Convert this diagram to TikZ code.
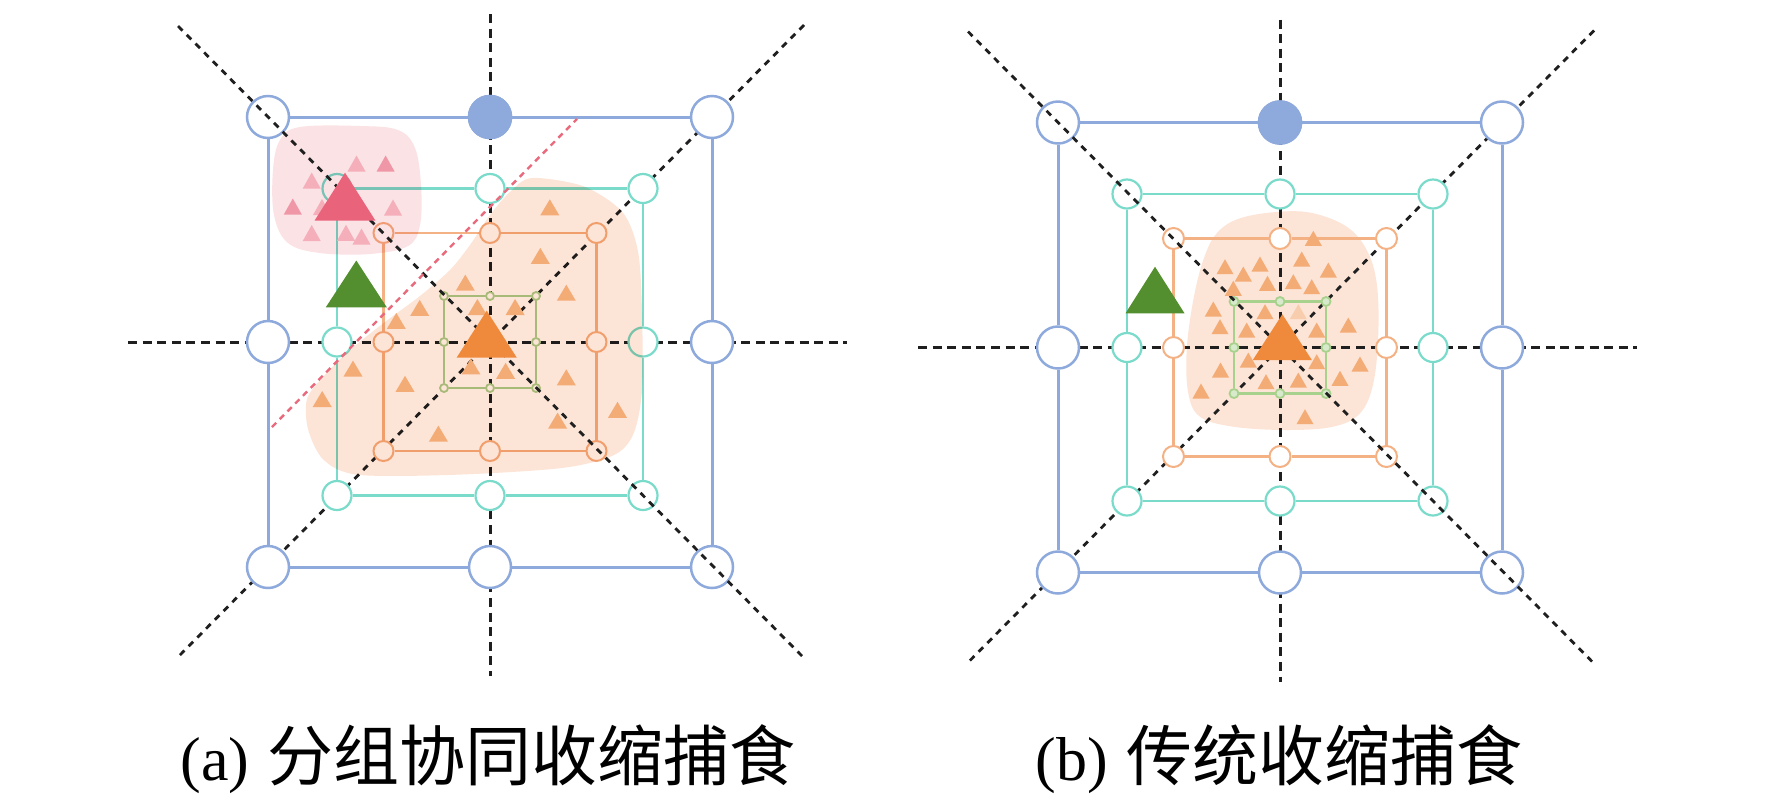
\documentclass[tikz,border=0pt]{standalone}
\usepackage{fontspec}
\setmainfont{Liberation Serif}
\newfontfamily\cjk{Noto Sans CJK SC}
\definecolor{cblue}{HTML}{8EA9DB}
\definecolor{ccyan}{HTML}{7ADBCB}
\definecolor{corange}{HTML}{F4B183}
\definecolor{cgreen}{HTML}{A9D18E}
\definecolor{cblob}{HTML}{FCE4D6}
\definecolor{cpink}{HTML}{FBE2E5}
\definecolor{cred}{HTML}{E9647A}
\definecolor{cpinktri}{HTML}{F5AFBB}
\definecolor{cpinktrid}{HTML}{EF97A7}
\definecolor{corangetri}{HTML}{F4AC76}
\definecolor{cbigorange}{HTML}{EF8A3C}
\definecolor{cdkgreen}{HTML}{548F2F}
\definecolor{credline}{HTML}{E86A7C}
\newcommand\ring[6]{%
 \node[#5] (#1#21) at (-#3,-#4) {};
 \node[#5] (#1#22) at (0,-#4) {};
 \node[#5] (#1#23) at (#3,-#4) {};
 \node[#5] (#1#24) at (#3,0) {};
 \node[#5] (#1#25) at (#3,#4) {};
 \node[#5] (#1#26) at (0,#4) {};
 \node[#5] (#1#27) at (-#3,#4) {};
 \node[#5] (#1#28) at (-#3,0) {};
 \draw[#6] (#1#21) -- (#1#22) -- (#1#23) -- (#1#24) -- (#1#25) -- (#1#26) -- (#1#27) -- (#1#28) -- (#1#21);
}
\newcommand\gridpanel[5]{%
\begin{scope}[shift={(#2,#3)}]
 \coordinate (#1hl) at (-362,0); \coordinate (#1hr) at (357,0);
 \coordinate (#1vt) at (0,-328); \coordinate (#1vb) at (0,334);
 \coordinate (#1tr) at (314,-317); \coordinate (#1bl) at (-312,315);
 \coordinate (#1tl) at (-312,-316); \coordinate (#1br) at (312,314);
 \draw[guide] (#1hl) -- (#1hr);
 \draw[guide] (#1vt) -- (#1vb);
 \draw[diag] (#1tr) -- (#1bl);
 \ring{#1}{G}{46}{46}{#5}{greenl}
 \ring{#1}{O}{106.5}{109}{#4}{orangel}
 \ring{#1}{C}{153}{153.5}{cyanc}{cyanl}
 \ring{#1}{B}{222}{225}{bluec}{bluel}
 \node[bluec,fill=cblue] (#1Bf) at (#1B2.center) {};
\end{scope}}
\newcommand\stri[5]{\fill[#5] (#1,#2) ++({-0.5*#3},{0.5*#4}) -- ++(#3,0) -- ++({-0.5*#3},{-#4}) -- cycle;}
\newcommand\btri[5]{\fill[#5] (#1,#2) -- (#1+#4,#3) -- (#1-#4,#3) -- cycle;}
\begin{document}
\begin{tikzpicture}[x=0.5pt,y=-0.5pt,
  guide/.style={draw=black!88,line width=1.5pt,dash pattern=on 4.5pt off 2.8pt},
  diag/.style={draw=black!88,line width=1.4pt,dash pattern=on 3.2pt off 3pt},
  bluec/.style={circle,draw=cblue,line width=1.25pt,fill=white,minimum size=21pt,inner sep=0pt},
  cyanc/.style={circle,draw=ccyan,line width=1.1pt,fill=white,minimum size=14.5pt,inner sep=0pt},
  orangec/.style={circle,draw=corange,line width=1pt,fill=white,minimum size=10pt,inner sep=0pt},
  orangecR/.style={circle,draw=corange,line width=1pt,fill=white,minimum size=10.5pt,inner sep=0pt},
  greenc/.style={circle,draw=cgreen,line width=0.9pt,fill=white,minimum size=4pt,inner sep=0pt},
  greencR/.style={circle,draw=cgreen,line width=0.9pt,fill=cgreen!45,minimum size=4.5pt,inner sep=0pt},
  bluel/.style={draw=cblue,line width=1.5pt},
  cyanl/.style={draw=ccyan,line width=1.25pt},
  orangel/.style={draw=corange,line width=1.15pt},
  greenl/.style={draw=cgreen,line width=1.2pt},
  redline/.style={draw=credline,line width=1.2pt,dash pattern=on 3pt off 2.5pt}]
\useasboundingbox (0,0) rectangle (1772,799);
\fill[white] (0,0) rectangle (1772,799);
% right panel blob (under grid)
\fill[cblob] plot[smooth cycle, tension=0.6] coordinates {(1216.7,233.3) (1240,218.3) (1280,211.7) (1313.3,213.3) (1346.7,226.7) (1366.7,250) (1376.7,283.3) (1378.3,333.3) (1373.3,383.3) (1360,413.3) (1333,426.7) (1286.7,430) (1233.3,426.7) (1200,416.7) (1188.3,393.3) (1186.7,350) (1193.3,300) (1203.3,260)};
\gridpanel{a}{490}{342}{orangec}{greenc}
\gridpanel{b}{1280}{347.5}{orangecR}{greencR}
% left panel blobs
\begin{scope}[blend mode=multiply]
\fill[cblob] plot[smooth cycle, tension=0.5] coordinates {(532,178) (584,186.5) (622.7,212.5) (638,251.5) (642,312) (642,390) (633.5,433.6) (614,455) (562,468) (453.5,474.8) (358,474.8) (323.5,459.7) (308,429) (307,399) (323,377) (350,350) (385,322) (420,296) (450,270) (470,245) (490,215) (510,192)};
\fill[cpink] plot[smooth cycle, tension=0.6] coordinates {(300,127) (360,126) (398,130) (415,148) (421,185) (420,225) (408,246) (370,254) (320,253) (288,243) (274,215) (273,170) (280,140)};
\end{scope}
\draw[diag] (atl) -- (abr);
\draw[diag] (btl) -- (bbr);
\coordinate (rl1) at (272,427); \coordinate (rl2) at (577,119);
\draw[redline] (rl1) -- (rl2);
% pink small triangles
\foreach \x/\y in {356.5/163.5,311.7/180.5,322/207,393/207.5,311.7/233,346/232.8,361.5/236.5}{\stri{\x}{\y}{18}{16}{cpinktri}}
\foreach \x/\y in {385.6/163.5,292.8/206.5}{\stri{\x}{\y}{18}{16}{cpinktrid}}
% left orange small triangles
\foreach \x/\y in {549.8/207.3,540.3/255.9,465.3/282.7,566.3/292.7,419.7/307.9,477.4/307,515.1/307,396.3/320.9,353/368.6,470.9/366.4,505.6/370.8,405/383.8,566.3/377.3,322.2/399,617.5/409.8,557.6/420.6,438.4/433.6}{\stri{\x}{\y}{19}{16}{corangetri}}
% right orange small triangles
\foreach \x/\y in {1313.3/238.3,1225/266.7,1243.3/274,1260/264,1301.7/259,1328.3/270,1233.3/288.3,1267.5/283.3,1293.3/281.7,1311.7/286.7,1213.3/309,1220/326.7,1246.7/330,1265/311.7,1316.7/330,1348.3/325,1248.3/360,1316.7/361.7,1220.5/370,1360/364,1340/378.3,1266/381.7,1298.3/380,1201/391,1305/416.7}{\stri{\x}{\y}{17}{15}{corangetri}}
\stri{1298.3}{311.7}{17}{15}{corangetri!60}
% big triangles
\btri{345}{172.7}{220.7}{30.5}{cred}
\btri{356.3}{260.5}{307.3}{30.5}{cdkgreen}
\btri{486.7}{310.7}{357.5}{30}{cbigorange}
\btri{1155}{266.7}{313.3}{29.5}{cdkgreen}
\btri{1282.3}{314.3}{360}{29.5}{cbigorange}
% captions
\node[anchor=base,inner sep=0pt] (capa) at (488,780) {\fontsize{31}{36}\selectfont (a)\hspace{9pt}{\cjk\fontsize{33}{40}\selectfont 分组协同收缩捕食}};
\node[anchor=base,inner sep=0pt] (capb) at (1279,780) {\fontsize{31}{36}\selectfont (b)\hspace{9pt}{\cjk\fontsize{33}{40}\selectfont 传统收缩捕食}};
\end{tikzpicture}
\end{document}
